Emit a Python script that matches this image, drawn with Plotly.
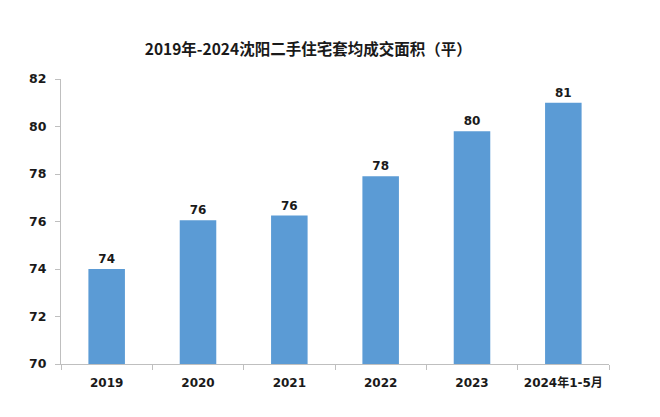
import plotly.graph_objects as go

categories = ["2019", "2020", "2021", "2022", "2023", "2024年1-5月"]
values = [74.0, 76.05, 76.25, 77.9, 79.8, 81.0]
labels = ["74", "76", "76", "78", "80", "81"]
y_ticks = [70, 72, 74, 76, 78, 80, 82]

font_num = "DejaVu Sans, Noto Sans CJK SC, sans-serif"
font_cjk = "Noto Sans CJK SC, sans-serif"

fig = go.Figure()
fig.add_trace(go.Bar(
    x=categories, y=values,
    marker=dict(color="#5B9BD5", line=dict(width=0)),
    text=labels, textposition="outside",
    textfont=dict(family=font_num, size=12, color="#1a1a1a", weight="bold"),
    cliponaxis=False,
))

fig.update_layout(
    width=660, height=417,
    margin=dict(l=61, r=51, t=79, b=53),
    paper_bgcolor="white", plot_bgcolor="white",
    bargap=0.6,
    showlegend=False,
    title=dict(
        text="<b>2019年-2024沈阳二手住宅套均成交面积（平）</b>",
        font=dict(family=font_cjk, size=15.5, color="#1a1a1a"),
        x=0.467, xanchor="center", xref="container",
        y=0.88, yanchor="middle", yref="container",
    ),
    xaxis=dict(
        showline=True, linecolor="#BFBFBF", linewidth=1,
        ticks="outside", ticklen=5, tickcolor="#BFBFBF",
        tickson="boundaries",
        tickfont=dict(family=font_num, size=12, color="#1a1a1a", weight="bold"),
        showgrid=False,
        ticklabelstandoff=8,
    ),
    yaxis=dict(
        range=[70, 82], tickvals=y_ticks,
        showline=True, linecolor="#BFBFBF", linewidth=1,
        ticks="outside", ticklen=5, tickcolor="#BFBFBF",
        tickfont=dict(family=font_num, size=12.5, color="#1a1a1a", weight="bold"),
        showgrid=False, zeroline=False,
        ticklabelstandoff=6,
    ),
)

fig.write_html("out.html")
